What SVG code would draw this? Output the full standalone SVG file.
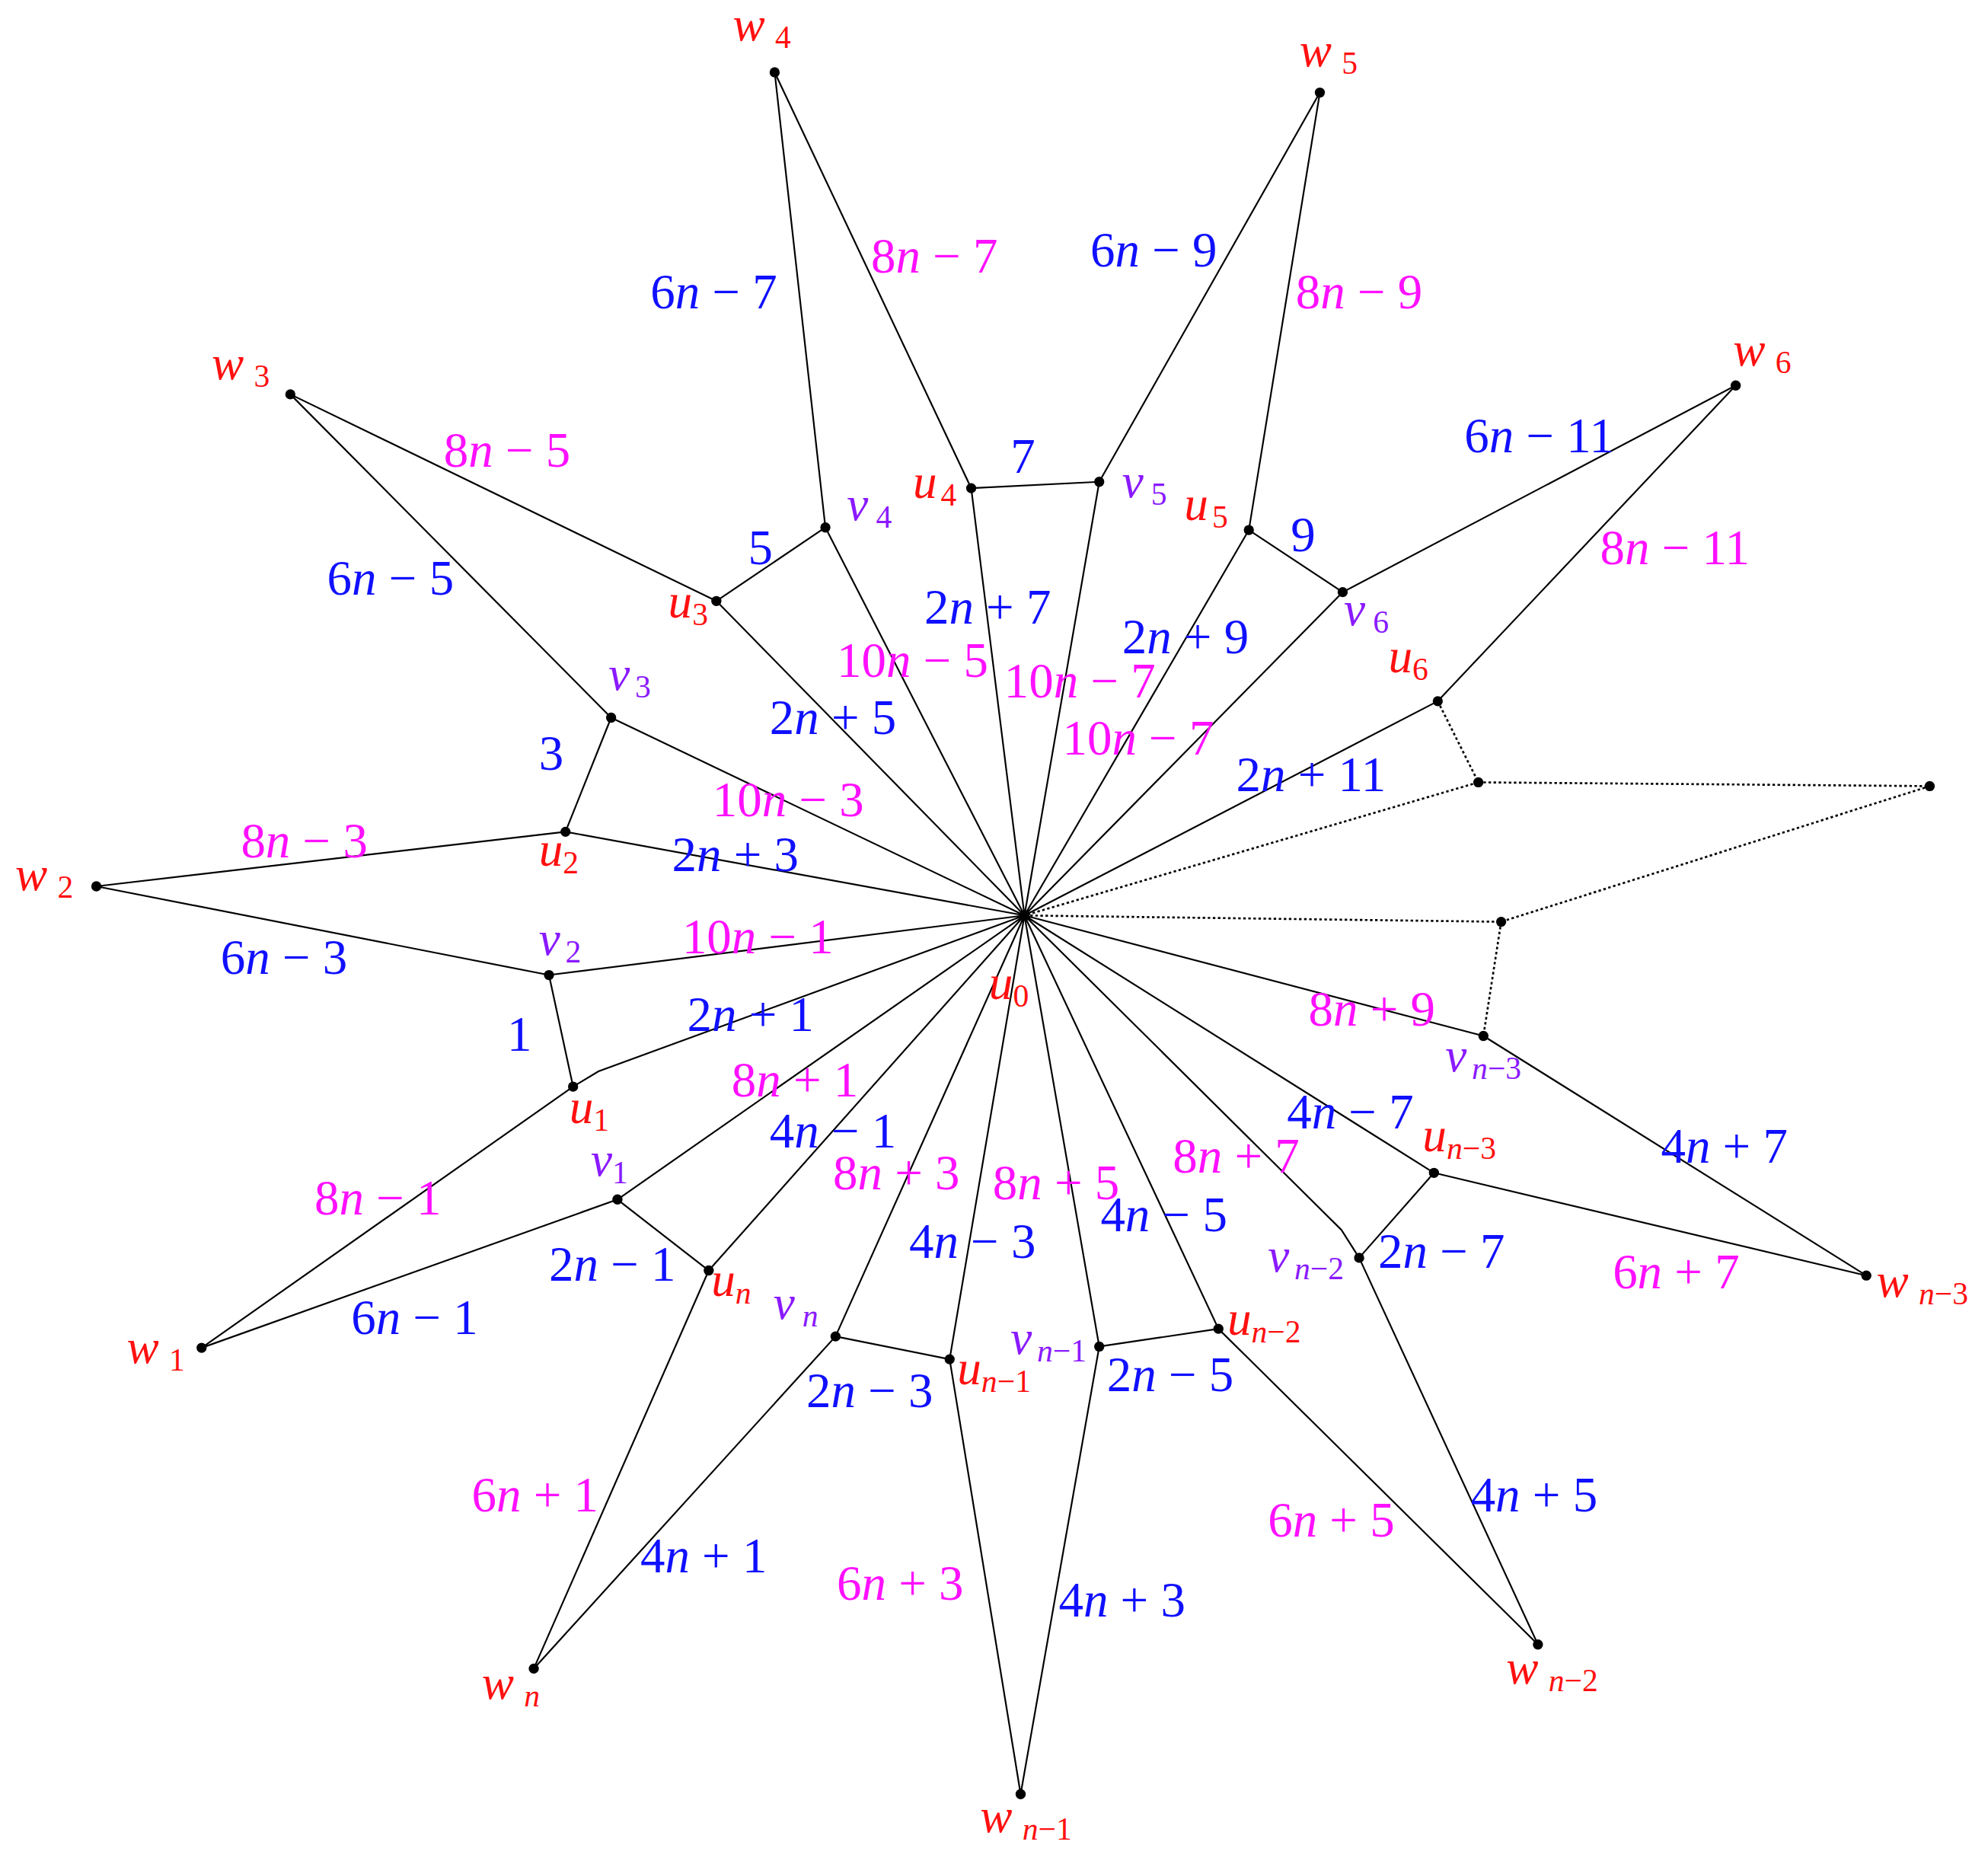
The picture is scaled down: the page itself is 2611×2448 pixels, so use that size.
<svg xmlns="http://www.w3.org/2000/svg" width="2611" height="2448" viewBox="0 0 2611 2448">
<style>
text{font-family:"Liberation Serif","Times New Roman",serif}
.e{font-size:39px}
.b{fill:#1010ff}.m{fill:#ff10ff}.r{fill:#ff1010}.p{fill:#8a1aff}
.i{font-style:italic}
.nl{font-size:38px}
.s{font-size:25px}
.ln{stroke:#000;stroke-width:1.3;fill:none}
.dt{stroke:#000;stroke-width:1.6;fill:none;stroke-dasharray:2 2}
</style>
<rect width="2611" height="2448" fill="#fff"/>
<g transform="scale(1.6652)">
<g id="connectors">
<path class="ln" d="M808 722L766 385M808 722L867 380M808 722L985 418M808 722L1059 467M808 722L1134 553M808 722L651 416M808 722L565 474M808 722L482 566M808 722L446 656M808 722L433 769M808 722L472 845L452 857M808 722L487 946M808 722L559 1002M808 722L659 1054M808 722L749 1072M808 722L867 1062M808 722L961 1048M808 722L1058 970L1072 992M808 722L1131 925M808 722L1170 817"/>
<path class="ln" d="M766 385L867 380M985 418L1059 467M565 474L651 416M482 566L446 656M433 769L452 857M487 946L559 1002M659 1054L749 1072M867 1062L961 1048M1072 992L1131 925"/>
<path class="ln" d="M766 385L611 57L651 416M867 380L1041 73L985 418M1059 467L1369 304L1134 553M565 474L229 311L482 566M446 656L76 699L433 769M452 857L159 1063L487 946M559 1002L421 1316L659 1054M749 1072L805 1415L867 1062M961 1048L1213 1297L1072 992M1131 925L1472 1006L1170 817"/>
<path class="dt" d="M1134 553L1166 617L808 722M1166 617L1522 620L1184 727L808 722M1184 727L1170 817"/>
</g>
<g id="nodes" fill="#000">
<circle id="n-u0" cx="808" cy="722" r="4"/>
<circle id="n-w4" cx="611" cy="57" r="4"/><circle id="n-w5" cx="1041" cy="73" r="4"/><circle id="n-w6" cx="1369" cy="304" r="4"/><circle id="n-w3" cx="229" cy="311" r="4"/><circle id="n-w2" cx="76" cy="699" r="4"/><circle id="n-w1" cx="159" cy="1063" r="4"/><circle id="n-wn" cx="421" cy="1316" r="4"/><circle id="n-wn1" cx="805" cy="1415" r="4"/><circle id="n-wn2" cx="1213" cy="1297" r="4"/><circle id="n-wn3" cx="1472" cy="1006" r="4"/>
<circle id="n-u4" cx="766" cy="385" r="4"/><circle id="n-v5" cx="867" cy="380" r="4"/><circle id="n-u5" cx="985" cy="418" r="4"/><circle id="n-v6" cx="1059" cy="467" r="4"/><circle id="n-u6" cx="1134" cy="553" r="4"/><circle id="n-v4" cx="651" cy="416" r="4"/><circle id="n-u3" cx="565" cy="474" r="4"/><circle id="n-v3" cx="482" cy="566" r="4"/><circle id="n-u2" cx="446" cy="656" r="4"/><circle id="n-v2" cx="433" cy="769" r="4"/><circle id="n-u1" cx="452" cy="857" r="4"/><circle id="n-v1" cx="487" cy="946" r="4"/><circle id="n-un" cx="559" cy="1002" r="4"/><circle id="n-vn" cx="659" cy="1054" r="4"/><circle id="n-un1" cx="749" cy="1072" r="4"/><circle id="n-vn1" cx="867" cy="1062" r="4"/><circle id="n-un2" cx="961" cy="1048" r="4"/><circle id="n-vn2" cx="1072" cy="992" r="4"/><circle id="n-un3" cx="1131" cy="925" r="4"/><circle id="n-vn3" cx="1170" cy="817" r="4"/>
<circle cx="1166" cy="617" r="4"/><circle cx="1522" cy="620" r="4"/><circle cx="1184" cy="727" r="4"/>
</g>
<g id="node-labels" class="nl">
<text class="r" x="578" y="32"><tspan class="i">w</tspan><tspan class="s" dx="8" dy="6">4</tspan></text>
<text class="r" x="1025" y="52"><tspan class="i">w</tspan><tspan class="s" dx="8" dy="6">5</tspan></text>
<text class="r" x="1367" y="288"><tspan class="i">w</tspan><tspan class="s" dx="8" dy="6">6</tspan></text>
<text class="r" x="167" y="299"><tspan class="i">w</tspan><tspan class="s" dx="8" dy="6">3</tspan></text>
<text class="r" x="12" y="702"><tspan class="i">w</tspan><tspan class="s" dx="8" dy="6">2</tspan></text>
<text class="r" x="100" y="1075"><tspan class="i">w</tspan><tspan class="s" dx="8" dy="6">1</tspan></text>
<text class="r" x="380" y="1340"><tspan class="i">w</tspan><tspan class="s i" dx="8" dy="6">n</tspan></text>
<text class="r" x="773" y="1445"><tspan class="i">w</tspan><tspan class="s" dx="8" dy="6"><tspan class="i">n</tspan>−1</tspan></text>
<text class="r" x="1188" y="1328"><tspan class="i">w</tspan><tspan class="s" dx="8" dy="6"><tspan class="i">n</tspan>−2</tspan></text>
<text class="r" x="1480" y="1023"><tspan class="i">w</tspan><tspan class="s" dx="8" dy="6"><tspan class="i">n</tspan>−3</tspan></text>
<text class="r" x="720" y="393"><tspan class="i">u</tspan><tspan class="s" dx="3" dy="6">4</tspan></text>
<text class="p" x="885" y="392"><tspan class="i">v</tspan><tspan class="s" dx="6" dy="6">5</tspan></text>
<text class="r" x="934" y="410"><tspan class="i">u</tspan><tspan class="s" dx="3" dy="6">5</tspan></text>
<text class="p" x="1060" y="493"><tspan class="i">v</tspan><tspan class="s" dx="6" dy="6">6</tspan></text>
<text class="r" x="1095" y="530"><tspan class="i">u</tspan><tspan class="s" dy="6">6</tspan></text>
<text class="p" x="668" y="410"><tspan class="i">v</tspan><tspan class="s" dx="6" dy="6">4</tspan></text>
<text class="r" x="527" y="487"><tspan class="i">u</tspan><tspan class="s" dy="6">3</tspan></text>
<text class="p" x="480" y="544"><tspan class="i">v</tspan><tspan class="s" dx="4" dy="6">3</tspan></text>
<text class="r" x="425" y="683"><tspan class="i">u</tspan><tspan class="s" dy="6">2</tspan></text>
<text class="p" x="425" y="753"><tspan class="i">v</tspan><tspan class="s" dx="4" dy="6">2</tspan></text>
<text class="r" x="449" y="886"><tspan class="i">u</tspan><tspan class="s" dy="6">1</tspan></text>
<text class="p" x="466" y="927"><tspan class="i">v</tspan><tspan class="s" dy="6">1</tspan></text>
<text class="r" x="561" y="1022"><tspan class="i">u</tspan><tspan class="s i" dy="6">n</tspan></text>
<text class="p" x="610" y="1040"><tspan class="i">v</tspan><tspan class="s i" dx="6" dy="6">n</tspan></text>
<text class="r" x="755" y="1092"><tspan class="i">u</tspan><tspan class="s" dy="6"><tspan class="i">n</tspan>−1</tspan></text>
<text class="p" x="797" y="1068"><tspan class="i">v</tspan><tspan class="s" dx="4" dy="6"><tspan class="i">n</tspan>−1</tspan></text>
<text class="r" x="968" y="1053"><tspan class="i">u</tspan><tspan class="s" dy="6"><tspan class="i">n</tspan>−2</tspan></text>
<text class="p" x="1000" y="1003"><tspan class="i">v</tspan><tspan class="s" dx="4" dy="6"><tspan class="i">n</tspan>−2</tspan></text>
<text class="r" x="1122" y="908"><tspan class="i">u</tspan><tspan class="s" dy="6"><tspan class="i">n</tspan>−3</tspan></text>
<text class="p" x="1140" y="845"><tspan class="i">v</tspan><tspan class="s" dx="4" dy="6"><tspan class="i">n</tspan>−3</tspan></text>
<text class="r" x="780" y="788"><tspan class="i">u</tspan><tspan class="s" dy="6">0</tspan></text>
</g>
<g id="edge-labels" class="e">
<text class="m" x="687" y="215">8<tspan class="i">n</tspan> − 7</text>
<text class="b" x="513" y="243">6<tspan class="i">n</tspan> − 7</text>
<text class="b" x="860" y="210">6<tspan class="i">n</tspan> − 9</text>
<text class="m" x="1022" y="243">8<tspan class="i">n</tspan> − 9</text>
<text class="b" x="1155" y="357">6<tspan class="i">n</tspan> − 11</text>
<text class="m" x="1262" y="445">8<tspan class="i">n</tspan> − 11</text>
<text class="m" x="350" y="368">8<tspan class="i">n</tspan> − 5</text>
<text class="b" x="258" y="469">6<tspan class="i">n</tspan> − 5</text>
<text class="b" x="797" y="373">7</text>
<text class="b" x="590" y="445">5</text>
<text class="b" x="1018" y="435">9</text>
<text class="b" x="425" y="607">3</text>
<text class="b" x="729" y="492">2<tspan class="i">n</tspan> + 7</text>
<text class="b" x="885" y="515">2<tspan class="i">n</tspan> + 9</text>
<text class="m" x="660" y="534">10<tspan class="i">n</tspan> − 5</text>
<text class="m" x="792" y="550">10<tspan class="i">n</tspan> − 7</text>
<text class="m" x="838" y="595">10<tspan class="i">n</tspan> − 7</text>
<text class="b" x="607" y="579">2<tspan class="i">n</tspan> + 5</text>
<text class="b" x="975" y="624">2<tspan class="i">n</tspan> + 11</text>
<text class="m" x="562" y="644">10<tspan class="i">n</tspan> − 3</text>
<text class="m" x="190" y="676">8<tspan class="i">n</tspan> − 3</text>
<text class="b" x="530" y="687">2<tspan class="i">n</tspan> + 3</text>
<text class="b" x="174" y="768">6<tspan class="i">n</tspan> − 3</text>
<text class="m" x="538" y="752">10<tspan class="i">n</tspan> − 1</text>
<text class="b" x="400" y="829">1</text>
<text class="b" x="542" y="813">2<tspan class="i">n</tspan> + 1</text>
<text class="m" x="577" y="865">8<tspan class="i">n</tspan> + 1</text>
<text class="m" x="1032" y="809">8<tspan class="i">n</tspan> + 9</text>
<text class="b" x="1015" y="890">4<tspan class="i">n</tspan> − 7</text>
<text class="b" x="1310" y="917">4<tspan class="i">n</tspan> + 7</text>
<text class="m" x="248" y="958">8<tspan class="i">n</tspan> − 1</text>
<text class="b" x="607" y="905">4<tspan class="i">n</tspan> − 1</text>
<text class="m" x="657" y="938">8<tspan class="i">n</tspan> + 3</text>
<text class="m" x="783" y="946">8<tspan class="i">n</tspan> + 5</text>
<text class="m" x="925" y="925">8<tspan class="i">n</tspan> + 7</text>
<text class="b" x="868" y="971">4<tspan class="i">n</tspan> − 5</text>
<text class="b" x="717" y="992">4<tspan class="i">n</tspan> − 3</text>
<text class="b" x="433" y="1010">2<tspan class="i">n</tspan> − 1</text>
<text class="b" x="277" y="1052">6<tspan class="i">n</tspan> − 1</text>
<text class="b" x="1087" y="1000">2<tspan class="i">n</tspan> − 7</text>
<text class="m" x="1272" y="1016">6<tspan class="i">n</tspan> + 7</text>
<text class="b" x="636" y="1110">2<tspan class="i">n</tspan> − 3</text>
<text class="b" x="873" y="1097">2<tspan class="i">n</tspan> − 5</text>
<text class="m" x="372" y="1192">6<tspan class="i">n</tspan> + 1</text>
<text class="b" x="505" y="1240">4<tspan class="i">n</tspan> + 1</text>
<text class="m" x="660" y="1262">6<tspan class="i">n</tspan> + 3</text>
<text class="b" x="835" y="1275">4<tspan class="i">n</tspan> + 3</text>
<text class="m" x="1000" y="1212">6<tspan class="i">n</tspan> + 5</text>
<text class="b" x="1160" y="1192">4<tspan class="i">n</tspan> + 5</text>
</g>
</g>
</svg>
